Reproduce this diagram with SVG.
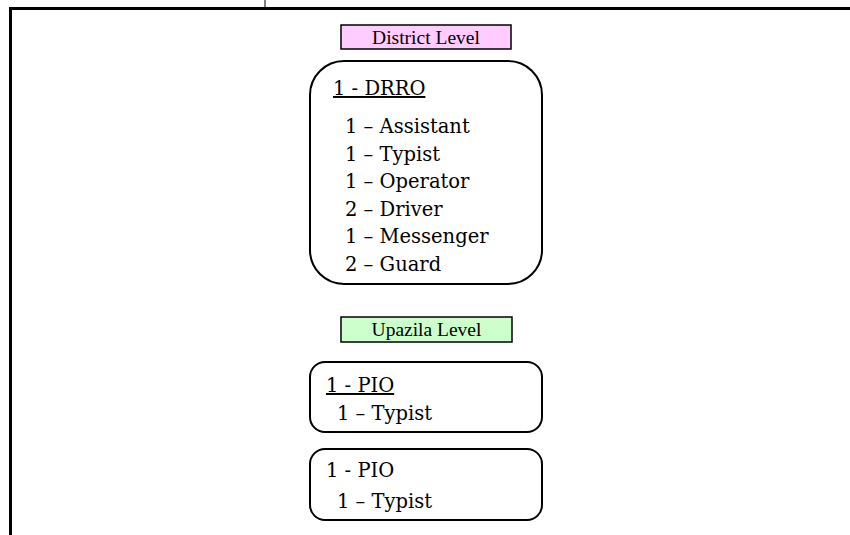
<svg xmlns="http://www.w3.org/2000/svg" width="850" height="535" viewBox="0 0 850 535">
  <style>
    .lbl { font-family: "Liberation Serif", "Times New Roman", serif; font-size: 19.5px; fill: #000; }
    .txt { font-family: "DejaVu Serif", "Liberation Serif", serif; font-size: 19.5px; fill: #000; }
    .box { fill: #fff; stroke: #000; stroke-width: 2; }
    .tag { stroke: #000; stroke-width: 1.5; }
  </style>
  <rect width="850" height="535" fill="#fff"/>

  <!-- outer frame and connectors -->
  <g id="connectors" stroke="#000" fill="none">
    <line x1="265" y1="0" x2="265" y2="8" stroke-width="1"/>
    <path d="M10.5 535 V8.5 H850" stroke-width="3"/>
  </g>

  <g id="district-label">
    <rect class="tag" x="341" y="25" width="170" height="24" fill="#ffccff"/>
    <text class="lbl" x="426" y="43.5" text-anchor="middle">District Level</text>
  </g>

  <g id="drro">
    <rect class="box" x="310" y="61" width="232" height="223" rx="34" ry="34"/>
    <text class="txt" x="333" y="95" text-decoration="underline">1 - DRRO</text>
    <text class="txt" x="345" y="133">1 – Assistant</text>
    <text class="txt" x="345" y="160.5">1 – Typist</text>
    <text class="txt" x="345" y="188">1 – Operator</text>
    <text class="txt" x="345" y="215.5">2 – Driver</text>
    <text class="txt" x="345" y="243">1 – Messenger</text>
    <text class="txt" x="345" y="270.5">2 – Guard</text>
  </g>

  <g id="upazila-label">
    <rect class="tag" x="341" y="317" width="171" height="25" fill="#ccffcc"/>
    <text class="lbl" x="426.5" y="336" text-anchor="middle">Upazila Level</text>
  </g>

  <g id="pio-1">
    <rect class="box" x="310" y="362" width="232" height="70" rx="15" ry="15"/>
    <text class="txt" x="326" y="392" text-decoration="underline">1 - PIO</text>
    <text class="txt" x="337" y="420">1 – Typist</text>
  </g>

  <g id="pio-2">
    <rect class="box" x="310" y="449" width="232" height="71" rx="15" ry="15"/>
    <text class="txt" x="326" y="477">1 - PIO</text>
    <text class="txt" x="337" y="508">1 – Typist</text>
  </g>
</svg>
